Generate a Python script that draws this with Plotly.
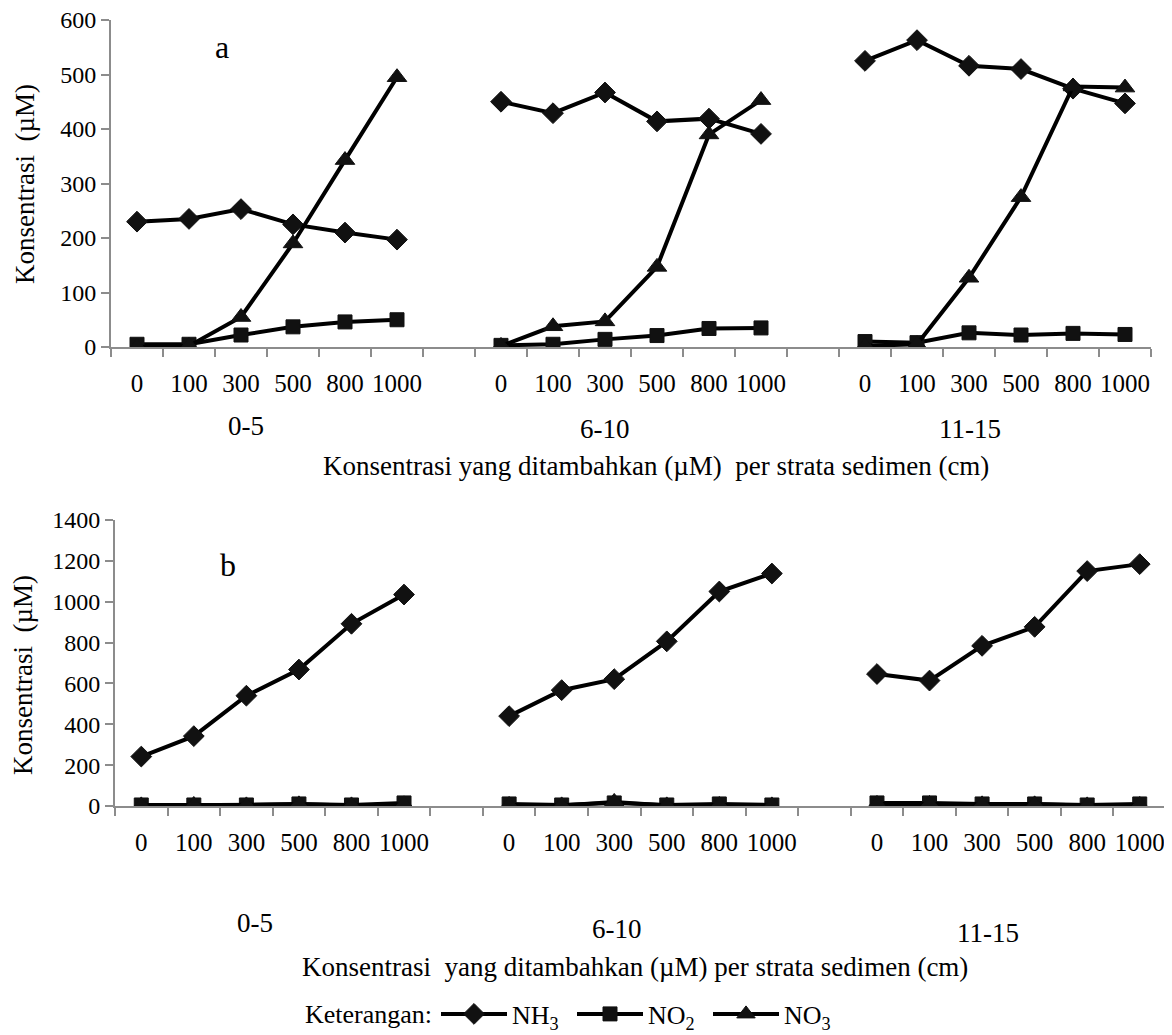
import plotly.graph_objects as go

# ---------------- data ----------------
added = ["0", "100", "300", "500", "800", "1000"]
strata = ["0-5", "6-10", "11-15"]

# panel a (values per stratum, 6 additions each)
nh3_a = [230, 235, 253, 225, 210, 197, 450, 429, 467, 414, 419, 391, 525, 563, 516, 510, 474, 447]
no2_a = [5, 5, 22, 37, 46, 50, 3, 5, 14, 21, 34, 35, 10, 8, 26, 22, 25, 23]
no3_a = [0, 2, 55, 190, 343, 495, 2, 38, 47, 147, 390, 453, 2, 5, 127, 275, 478, 476]

# panel b
nh3_b = [242, 342, 540, 668, 892, 1035, 440, 567, 621, 806, 1050, 1138, 646, 614, 784, 877, 1150, 1184]
no2_b = [5, 5, 5, 10, 5, 15, 10, 5, 15, 5, 10, 5, 15, 15, 10, 10, 5, 10]
no3_b = [3, 5, 3, 8, 3, 8, 5, 3, 20, 3, 5, 3, 10, 10, 8, 8, 3, 5]

W, H = 1172, 1035
OFF = 8  # page body margin: the figure starts 8px in from the window corner
FONT = "'Liberation Serif', 'Times New Roman', Times, serif"
GRAY = "#8c8c8c"


def xp(px):
    return (px - OFF) / W


def yp(py):
    return 1 - (py - OFF) / H


# category layout: 6 categories per stratum, one empty category between strata
n = len(added)
xpos, xlab = [], []
for g in range(len(strata)):
    for i in range(n):
        xpos.append(g * (n + 1) + i)
        xlab.append(added[i])


def gapped(vals):
    xs, ys = [], []
    for g in range(len(strata)):
        for i in range(n):
            xs.append(g * (n + 1) + i)
            ys.append(vals[g * n + i])
        if g < len(strata) - 1:
            xs.append(g * (n + 1) + n)
            ys.append(None)
    return xs, ys


series = [
    ("NH<sub>3</sub>", "diamond", 16),
    ("NO<sub>2</sub>", "square", 14),
    ("NO<sub>3</sub>", "triangle-up", 17),
]

fig = go.Figure()
panel_data = [(nh3_a, no2_a, no3_a), (nh3_b, no2_b, no3_b)]
for p, vals in enumerate(panel_data):
    for (name, sym, sz), v in zip(series, vals):
        xs, ys = gapped(v)
        fig.add_trace(go.Scatter(
            x=xs, y=ys, mode="lines+markers", name=name,
            line=dict(color="black", width=4),
            marker=dict(symbol=sym, size=sz, color="#111111",
                        line=dict(color="#111111", width=1)),
            connectgaps=False,
            showlegend=(p == 0),
            xaxis="x" if p == 0 else "x2",
            yaxis="y" if p == 0 else "y2",
        ))

nx = len(strata) * (n + 1) - 1
common_x = dict(
    range=[-0.5, nx - 0.5], tickmode="array", tickvals=xpos, ticktext=xlab,
    ticks="outside", ticklen=13, tickcolor="rgba(0,0,0,0)", automargin=False,
    ticklabeloverflow="allow",
    showline=True, linecolor=GRAY, linewidth=2, showgrid=False, zeroline=False,
    tickfont=dict(family=FONT, size=25, color="black"),
    minor=dict(tickmode="linear", tick0=-0.5, dtick=1, ticks="outside",
               ticklen=8, tickcolor=GRAY, tickwidth=2, showgrid=False),
)
common_y = dict(
    ticks="outside", ticklen=8, tickcolor=GRAY, tickwidth=2, automargin=False,
    ticklabeloverflow="allow",
    showline=True, linecolor=GRAY, linewidth=2, showgrid=False, zeroline=False,
    tickfont=dict(family=FONT, size=24, color="black"),
)

fig.update_layout(
    width=W, height=H,
    margin=dict(l=0, r=0, t=0, b=0, autoexpand=False),
    paper_bgcolor="white", plot_bgcolor="white",
    font=dict(family=FONT, size=27, color="black"),
    xaxis=dict(domain=[xp(111), xp(1151)], anchor="y", **common_x),
    yaxis=dict(domain=[yp(347), yp(20)], anchor="x", range=[0, 600], dtick=100, **common_y),
    xaxis2=dict(domain=[xp(115), xp(1166)], anchor="y2", **common_x),
    yaxis2=dict(domain=[yp(806), yp(520)], anchor="x2", range=[0, 1400], dtick=200, **common_y),
    legend=dict(orientation="h", x=xp(436), xanchor="left", y=yp(1014), yanchor="middle",
                font=dict(family=FONT, size=26, color="black"),
                bgcolor="rgba(0,0,0,0)", itemwidth=66, entrywidth=55,
                traceorder="normal"),
    showlegend=True,
)

ann = []


def add_text(text, x, y, size=27, angle=0):
    ann.append(dict(text=text, x=xp(x), y=yp(y), xref="paper", yref="paper",
                    showarrow=False, xanchor="center", yanchor="middle",
                    textangle=angle, font=dict(family=FONT, size=size, color="black")))


NB = "\u00a0"
# panel a
add_text("a", 222, 47, size=32)
add_text("Konsentrasi" + NB + NB + "(µM)", 25, 184, angle=-90)
for s, (x, y) in zip(strata, [(246, 426), (605, 429), (970, 429)]):
    add_text(s, x, y)
add_text("Konsentrasi yang ditambahkan (µM)" + NB + NB + "per strata sedimen (cm)", 656, 466)
# panel b
add_text("b", 228, 565, size=32)
add_text("Konsentrasi" + NB + NB + "(µM)", 23, 675, angle=-90)
for s, (x, y) in zip(strata, [(255, 923), (617, 929), (988, 933)]):
    add_text(s, x, y)
add_text("Konsentrasi" + NB + NB + "yang ditambahkan (µM) per strata sedimen (cm)", 635, 967)
# legend caption
add_text("Keterangan:", 368, 1014, size=26)

fig.update_layout(annotations=ann)
fig.write_html("out.html")
